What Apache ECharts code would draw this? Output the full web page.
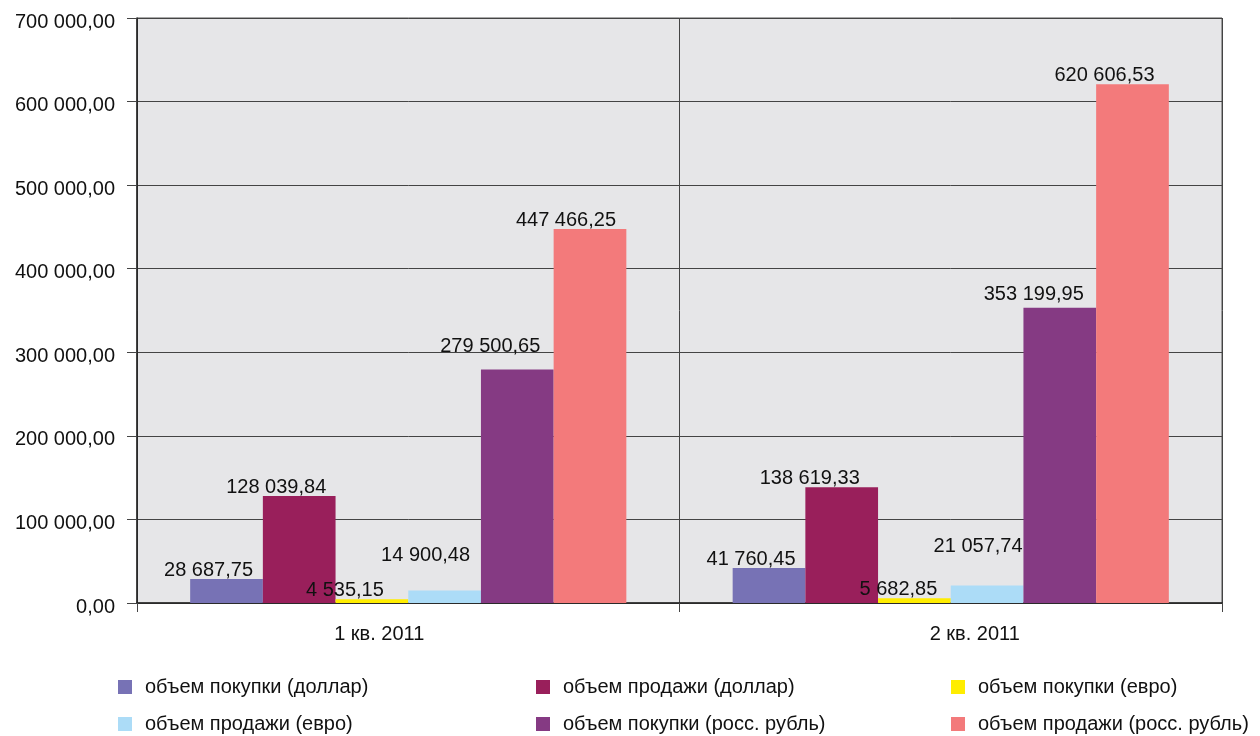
<!DOCTYPE html>
<html>
<head>
<meta charset="utf-8">
<script src="https://cdn.jsdelivr.net/npm/echarts@6/dist/echarts.min.js"></script>
<style>
  html, body { margin: 0; padding: 0; background: #ffffff; }
  #grafica { width: 1260px; height: 736px; }
</style>
</head>
<body>
<div id="grafica"></div>
<script>
// datos del grafico
const categorias = ["1 кв. 2011", "2 кв. 2011"];
const nombres = [
  "объем покупки (доллар)",
  "объем продажи (доллар)",
  "объем покупки (евро)",
  "объем продажи (евро)",
  "объем покупки (росс. рубль)",
  "объем продажи (росс. рубль)",
];
const compraDolar = [28687.75, 41760.45];
const ventaDolar = [128039.84, 138619.33];
const compraEuro = [4535.15, 5682.85];
const ventaEuro = [14900.48, 21057.74];
const compraRublo = [279500.65, 353199.95];
const ventaRublo = [447466.25, 620606.53];

const colores = ["#7772b5", "#991f5b", "#ffed00", "#acdcf7", "#853a83", "#f37a7b"];
// desplazamiento de cada etiqueta [x, y] (como en el original)
const ajustes = [
  [[-18, 1], [-18, 1]],
  [[-23, 1], [-32, 1]],
  [[-27, 1], [-16, 1]],
  [[-19, -25], [-9, -29]],
  [[-27, -13], [-26, -3]],
  [[-24, 1], [-28, 1]],
];
// posicion de cada entrada de la leyenda (3 columnas x 2 filas)
const leyendaPos = [[113, 672], [531, 672], [946, 672], [113, 709], [531, 709], [946, 709]];

const fuente = "Liberation Sans, Arial, sans-serif";

// 1234567.8 -> "1 234 567,80"
const formato = (v) => {
  let partes = Number(v).toFixed(2).split(".");
  let entero = partes[0].replace(/\B(?=(\d{3})+(?!\d))/g, " ");
  return entero + "," + partes[1];
};

const valores = [compraDolar, ventaDolar, compraEuro, ventaEuro, compraRublo, ventaRublo];

const series = valores.map((datos, i) => ({
  name: nombres[i],
  type: "bar",
  data: datos.map((v, j) => ({ value: v, label: { offset: ajustes[i][j] } })),
  barGap: "0%",
  barCategoryGap: "19.6%",
  itemStyle: { color: colores[i] },
  label: {
    show: true,
    position: "top",
    distance: 0,
    color: "#111",
    fontSize: 20,
    fontFamily: fuente,
    formatter: (p) => formato(p.value),
  },
}));

const leyendas = nombres.map((n, i) => ({
  left: leyendaPos[i][0],
  top: leyendaPos[i][1],
  icon: "rect",
  itemWidth: 14,
  itemHeight: 14,
  data: [n],
  textStyle: {
    fontSize: 20,
    fontFamily: fuente,
    color: "#111",
    padding: [0, 0, 0, 8],
  },
}));

const option = {
  backgroundColor: "#ffffff",
  animation: false,
  grid: {
    left: 137,
    right: 38,
    top: 18,
    bottom: 133,
    show: true,
    backgroundColor: "#e6e6e8",
    borderColor: "#555",
    borderWidth: 1,
  },
  legend: leyendas,
  xAxis: {
    type: "category",
    data: categorias,
    axisLine: { lineStyle: { color: "#222", width: 1.5 } },
    axisTick: { show: true, length: 9, lineStyle: { color: "#444" } },
    splitLine: { show: true, lineStyle: { color: "#444", width: 1 } },
    axisLabel: {
      margin: 21,
      color: "#111",
      fontSize: 20,
      fontFamily: fuente,
      formatter: (v, i) => (i === 0 ? "{a|" + v + "}" : "{b|" + v + "}"),
      rich: {
        a: { fontSize: 20, fontFamily: fuente, color: "#111", padding: [0, 58, 0, 0] },
        b: { fontSize: 20, fontFamily: fuente, color: "#111", padding: [0, 0, 0, 48] },
      },
    },
  },
  yAxis: {
    type: "value",
    min: 0,
    max: 700000,
    interval: 100000,
    axisLine: { show: true, lineStyle: { color: "#222", width: 1.5 } },
    axisTick: { show: true, length: 10, lineStyle: { color: "#444" } },
    splitLine: { show: true, lineStyle: { color: "#444", width: 1 } },
    axisLabel: {
      margin: 22,
      color: "#111",
      fontSize: 20,
      fontFamily: fuente,
      formatter: (v) => "{v|" + formato(v) + "}",
      rich: {
        v: { fontSize: 20, fontFamily: fuente, color: "#111", padding: [8, 0, 0, 0] },
      },
    },
  },
  series: series,
};

const crearGrafica = () => {
  let myChart = echarts.init(document.querySelector("#grafica"));
  myChart.setOption(option);
};

window.addEventListener("DOMContentLoaded", () => {
  crearGrafica();
});
</script>
</body>
</html>
